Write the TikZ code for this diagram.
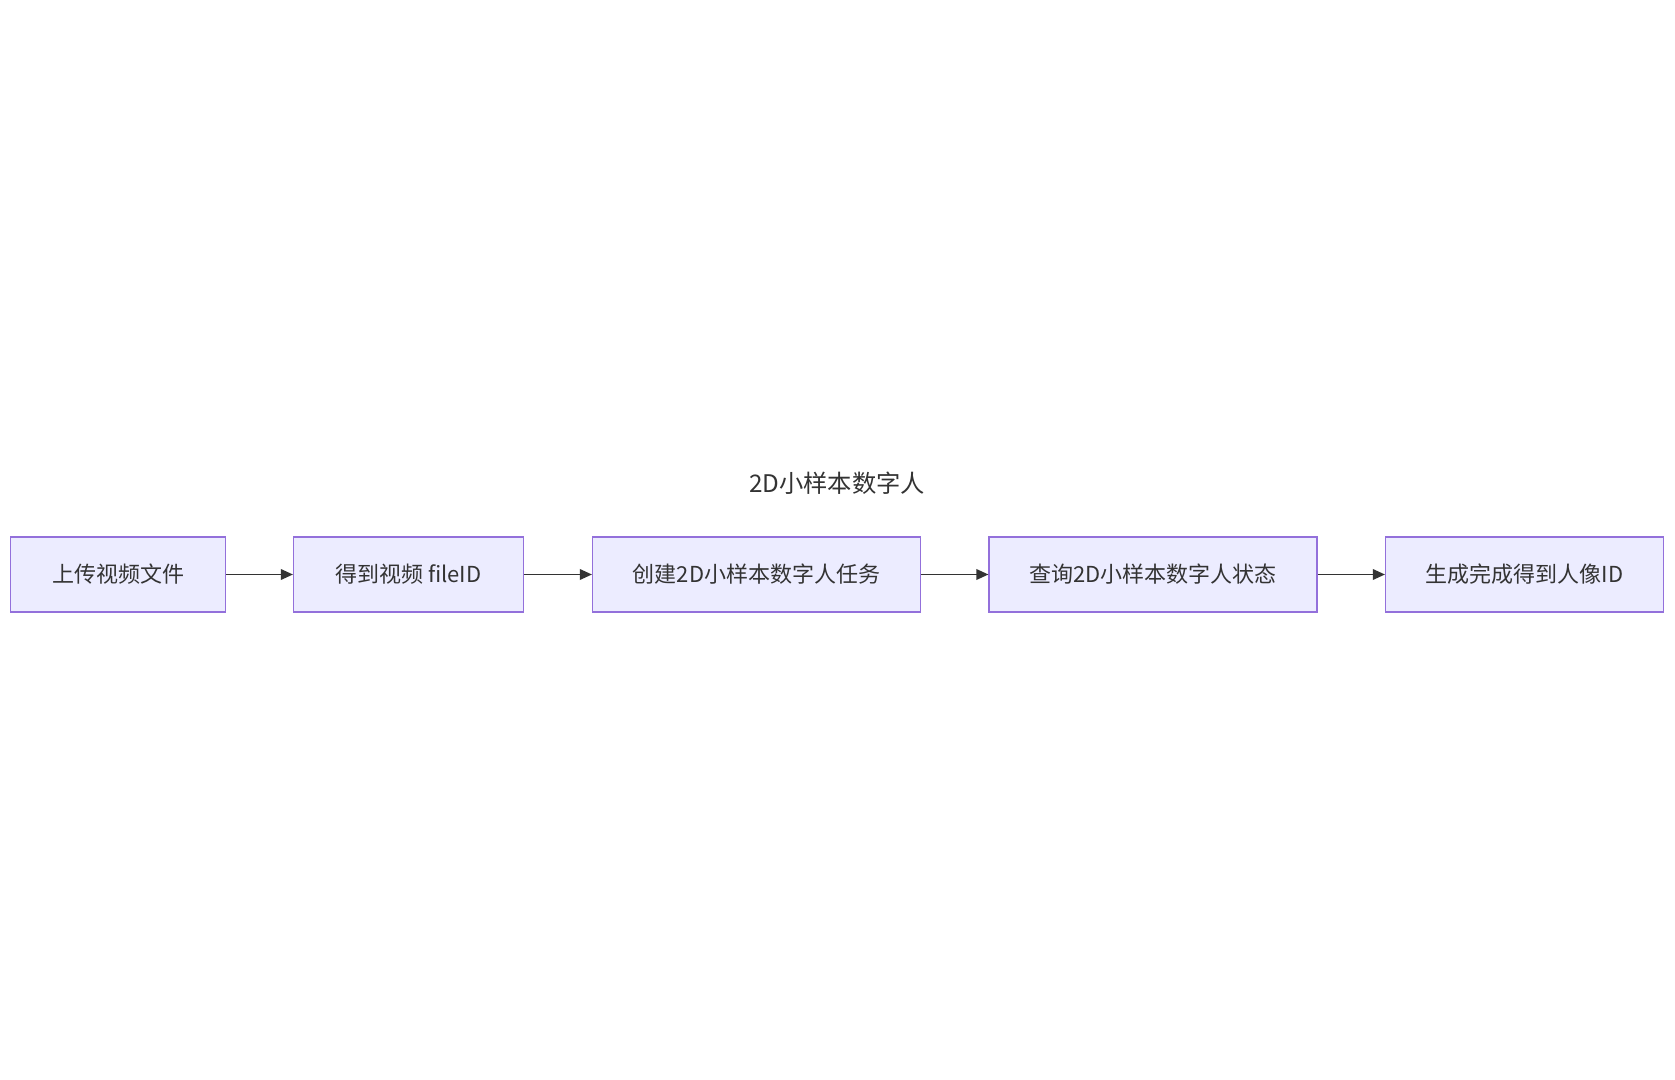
\documentclass[tikz,border=0pt]{standalone}
\usepackage{fontspec}
\setmainfont{Noto Sans CJK SC}
\usepackage{xcolor}
\usetikzlibrary{positioning,arrows.meta}
\definecolor{boxfill}{HTML}{ECECFF}
\definecolor{boxdraw}{HTML}{9370DB}
\definecolor{inkcolor}{HTML}{333333}
\tikzset{
    step box/.style={rectangle, draw=boxdraw, fill=boxfill, line width=0.9pt, minimum height=56.25pt, inner sep=0pt, text=inkcolor, font=\fontsize{16.5}{20}\selectfont},
    flow/.style={-{Triangle[length=9pt,width=8pt]}, line width=1pt, inkcolor},
    group label/.style={text=inkcolor, font=\fontsize{18.2}{22}\selectfont}
}
\begin{document}
\begin{tikzpicture}[x=0.75pt, y=-0.75pt]
    \useasboundingbox[fill=white] (0,0) rectangle (1675,1080);

    % Group title
    \node[group label] (title) at (837,483) {2D小样本数字人};

    % Steps
    \node[step box, minimum width=161.25pt] (upload) at (118,574.5) {上传视频文件};
    \node[step box, minimum width=172.5pt] (fileid) at (408.5,574.5) {得到视频 fileID};
    \node[step box, minimum width=246pt] (create) at (756.5,574.5) {创建2D小样本数字人任务};
    \node[step box, minimum width=246pt] (query) at (1153,574.5) {查询2D小样本数字人状态};
    \node[step box, minimum width=208.5pt] (result) at (1524.5,574.5) {生成完成得到人像ID};

    % Connections
    \draw[flow] (upload) -- (fileid);
    \draw[flow] (fileid) -- (create);
    \draw[flow] (create) -- (query);
    \draw[flow] (query) -- (result);
\end{tikzpicture}
\end{document}
